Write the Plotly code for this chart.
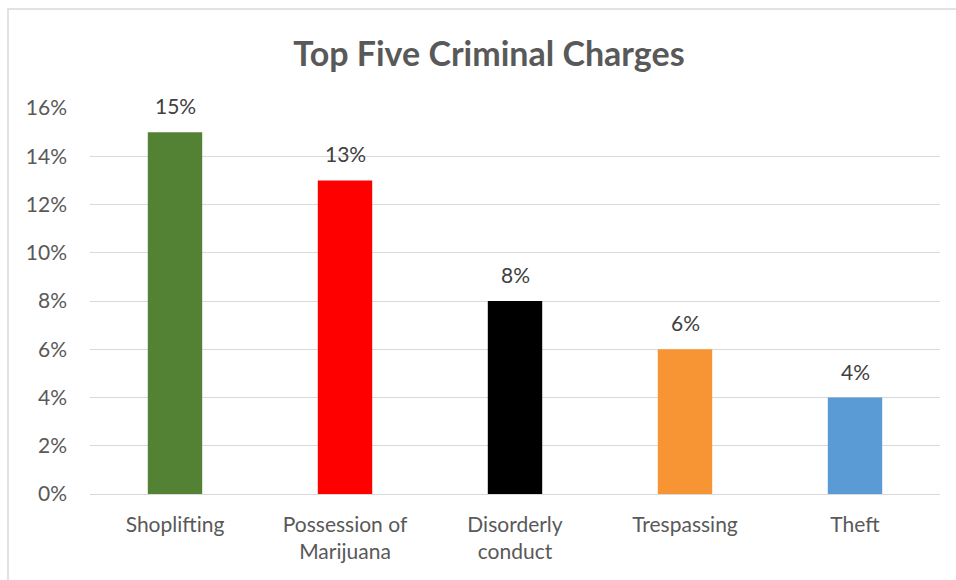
import plotly.graph_objects as go

categories = ["Shoplifting", "Possession of<br>Marijuana", "Disorderly<br>conduct", "Trespassing", "Theft"]
values = [15, 13, 8, 6, 4]
colors = ["#548235", "#FF0000", "#000000", "#F79433", "#5B9BD5"]
tick_vals = [0, 2, 4, 6, 8, 10, 12, 14, 16]
tick_text = [f"{v}%" for v in tick_vals]

FONT = "Lato"
W, H = 956, 580
L, R, T, B = 90, 16, 108, 86
pw, ph = W - L - R, H - T - B

fig = go.Figure(go.Bar(
    x=categories, y=values,
    marker=dict(color=colors, line=dict(width=0)),
    hoverinfo="x+y",
))

for c, v in zip(categories, values):
    fig.add_annotation(x=c, y=v, text=f"{v}%", showarrow=False,
                       yanchor="bottom", yshift=12,
                       font=dict(size=21, color="#404040", family=FONT))

fig.update_layout(
    width=W, height=H,
    margin=dict(l=L, r=R, t=T, b=B),
    paper_bgcolor="white", plot_bgcolor="white",
    bargap=0.68,
    showlegend=False,
    font=dict(family=FONT, color="#595959", size=21),
    title=dict(text="<b>Top Five Criminal Charges</b>", x=489 / W, xanchor="center",
               y=1 - 54 / H, yanchor="middle",
               font=dict(size=34, color="#595959", family=FONT)),
    xaxis=dict(showgrid=False, showline=False, ticks="", tickfont=dict(size=21, color="#595959"),
               ticklabelstandoff=16, fixedrange=True),
    yaxis=dict(range=[0, 16], tickvals=tick_vals, ticktext=tick_text,
               showgrid=True, gridcolor="#D9D9D9", gridwidth=1,
               zeroline=True, zerolinecolor="#D9D9D9", zerolinewidth=1,
               showline=False, ticks="", ticklabelstandoff=22,
               tickfont=dict(size=21, color="#595959")),
    shapes=[dict(type="rect", xref="paper", yref="paper",
                 x0=(8 - L) / pw, x1=(W + 5 - L) / pw,
                 y0=-(H + 5 - T - ph) / ph - 0.01, y1=1 + (T - 9) / ph,
                 line=dict(color="#D9D9D9", width=1.5), fillcolor="rgba(0,0,0,0)", layer="below")],
)

fig.write_html("out.html")
